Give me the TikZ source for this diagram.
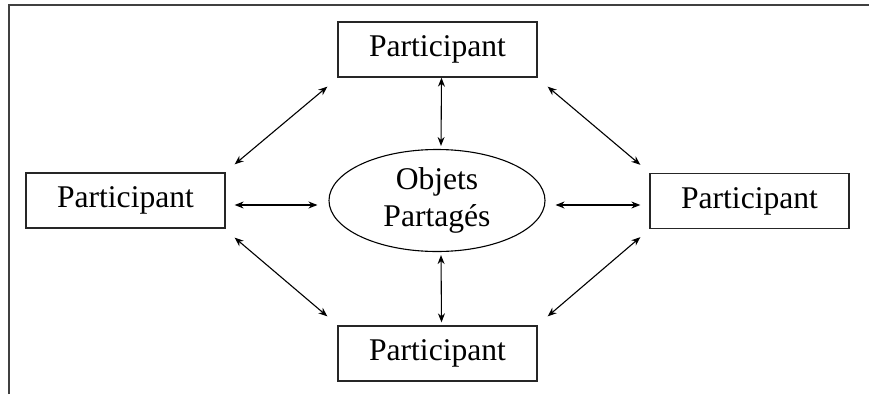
\documentclass[tikz,border=0pt]{standalone}
\usepackage{fontspec}
\setmainfont{Liberation Serif}
\usetikzlibrary{arrows.meta,shapes.geometric}
\begin{document}
\begin{tikzpicture}[x=1pt,y=-1pt,
  pbox/.style={draw=black!85,line width=1.3pt,minimum width=199pt,minimum height=55pt,inner sep=0pt,font=\fontsize{31.6}{37}\selectfont},
  obj/.style={draw=black,line width=1.1pt,ellipse,minimum width=216pt,minimum height=102pt,inner sep=0pt,align=center,font=\fontsize{31.6}{37}\selectfont},
  biarr/.style={line width=1.1pt,{Stealth[length=9pt,width=7pt]}-{Stealth[length=9pt,width=7pt]}},
  frame/.style={draw=black!75,line width=1.5pt}]
\useasboundingbox (0,0) rectangle (869,394);
\draw[frame] (9,394) -- (9,5) -- (869,5);
\node[pbox] (T) at (437.5,49.5) {Participant};
\node[pbox] (L) at (125.5,200.5) {Participant};
\node[pbox] (R) at (749.5,201) {Participant};
\node[pbox] (B) at (437.5,353.5) {Participant};
\node[obj] (O) at (437,200.5) {Objets\\Partagés};
% diagonals
\draw[biarr] ([shift={(9,-8)}]L.north east) -- ([shift={(-10,9)}]T.south west);
\draw[biarr] ([shift={(10,9)}]T.south east) -- ([shift={(-9,-8)}]R.north west);
\draw[biarr] ([shift={(9,9)}]L.south east) -- ([shift={(-10,-9)}]B.north west);
\draw[biarr] ([shift={(-9,8)}]R.south west) -- ([shift={(10,-9)}]B.north east);
% horizontals
\draw[biarr] ([shift={(9,4.5)}]L.east) -- ([shift={(-11,4.5)}]O.west);
\draw[biarr] ([shift={(10,4.5)}]O.east) -- ([shift={(-9,4)}]R.west);
% verticals
\draw[biarr] ([shift={(4,0)}]T.south) -- ([shift={(4,-3)}]O.north);
\draw[biarr] ([shift={(4,3)}]O.south) -- ([shift={(4,-3)}]B.north);
\end{tikzpicture}
\end{document}
